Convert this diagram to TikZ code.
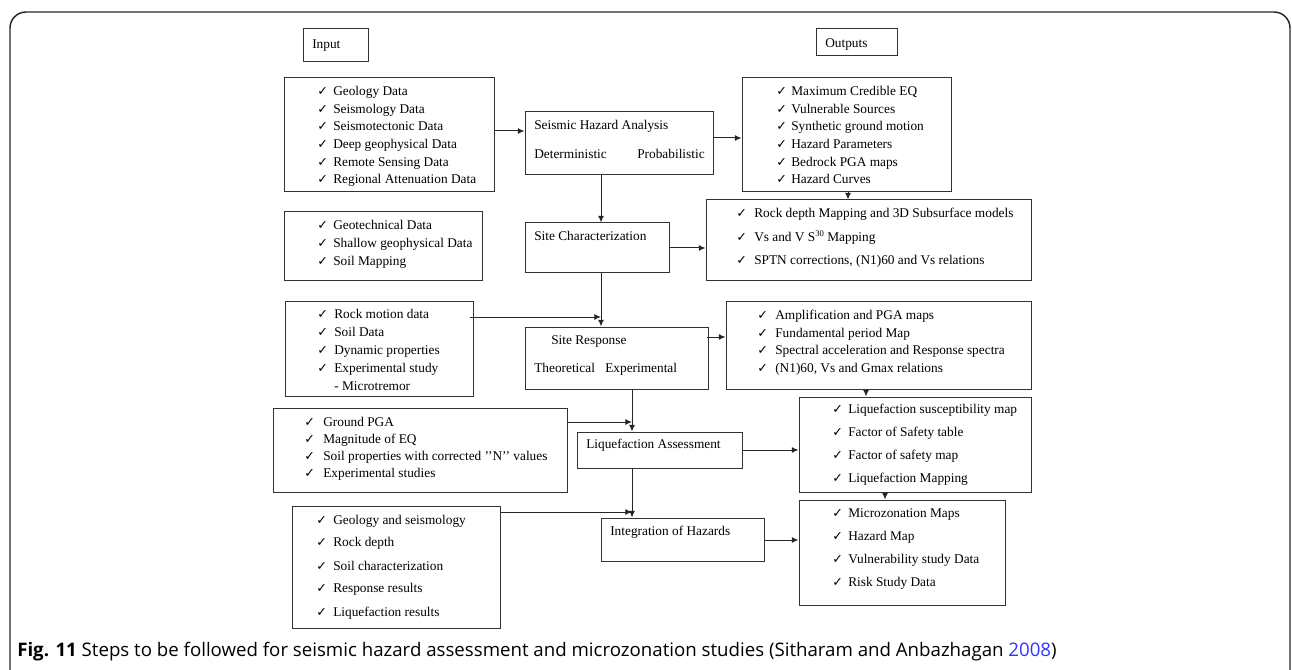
\documentclass[tikz,border=0pt]{standalone}
\usepackage{fontspec}
\setmainfont{Liberation Serif}
\newfontfamily\capfont{Open Sans}
\newfontfamily\chkfont{DejaVu Sans}
\usetikzlibrary{arrows.meta,fit}
\definecolor{linkblue}{RGB}{51,51,255}
\newcommand{\ck}[1][12pt]{\makebox[#1][l]{\chkfont\fontsize{9.5}{10}\selectfont ✓}}
\begin{document}
\begin{tikzpicture}[x=0.75pt,y=-0.75pt,
  font=\fontsize{10}{12}\selectfont,
  box/.style={draw=black!80, line width=0.75pt, inner sep=0pt},
  txt/.style={anchor=west, inner sep=0pt, text height=7pt, text depth=0pt},
  arr/.style={draw=black!85, line width=0.75pt, -{Latex[length=5pt,width=4.5pt]}},
  frame/.style={draw=black!85, line width=1.1pt, rounded corners=12pt}]
\useasboundingbox (0,0) rectangle (1292,670);
\draw[frame] (10,690) -- (10,12) -- (1290,12) -- (1290,690);

% boxes
\node[box, fit={(303,29) (368,62)}] (inp) {};
\node[box, fit={(816,29) (897,56)}] (outs) {};
\node[box, fit={(284,78) (494,192)}] (geo) {};
\node[box, fit={(525,112) (713,175)}] (sha) {};
\node[box, fit={(742,78) (951,192)}] (out1) {};
\node[box, fit={(284,212) (482,281)}] (gt) {};
\node[box, fit={(525,223) (669,273)}] (sc) {};
\node[box, fit={(706,200) (1031,281)}] (rd) {};
\node[box, fit={(285,302) (473,396)}] (rm) {};
\node[box, fit={(525,327) (708,389)}] (sr) {};
\node[box, fit={(726,302) (1031,389)}] (amp) {};
\node[box, fit={(273,408) (567,492)}] (gp) {};
\node[box, fit={(577,432) (742,468)}] (la) {};
\node[box, fit={(799,397) (1031,492)}] (lo) {};
\node[box, fit={(292,506) (500,628)}] (gs) {};
\node[box, fit={(601,518) (764,561)}] (ih) {};
\node[box, fit={(799,500) (1005,605)}] (mz) {};

% texts
\node[txt] (inp-t) at (312,44) {Input};
\node[txt] (outs-t) at (825,43) {Outputs};

\node[txt] (geo-1) at (317,91) {\ck[12pt]Geology Data};
\node[txt] (geo-2) at (317,109) {\ck[12pt]Seismology Data};
\node[txt] (geo-3) at (317,126) {\ck[12pt]Seismotectonic Data};
\node[txt] (geo-4) at (317,144) {\ck[12pt]Deep geophysical Data};
\node[txt] (geo-5) at (317,162) {\ck[12pt]Remote Sensing Data};
\node[txt] (geo-6) at (317,179) {\ck[12pt]Regional Attenuation Data};

\node[txt] (sha-1) at (534,125) {Seismic Hazard Analysis};
\node[txt] (sha-2) at (534,154) {Deterministic};
\node[txt] (sha-3) at (637,154) {Probabilistic};

\node[txt] (out1-1) at (776,91) {\ck[11.25pt]Maximum Credible EQ};
\node[txt] (out1-2) at (776,109) {\ck[11.25pt]Vulnerable Sources};
\node[txt] (out1-3) at (776,126) {\ck[11.25pt]Synthetic ground motion};
\node[txt] (out1-4) at (776,144) {\ck[11.25pt]Hazard Parameters};
\node[txt] (out1-5) at (776,162) {\ck[11.25pt]Bedrock PGA maps};
\node[txt] (out1-6) at (776,179) {\ck[11.25pt]Hazard Curves};

\node[txt] (gt-1) at (317,225) {\ck[12pt]Geotechnical Data};
\node[txt] (gt-2) at (317,243) {\ck[12pt]Shallow geophysical Data};
\node[txt] (gt-3) at (317,261) {\ck[12pt]Soil Mapping};

\node[txt] (sc-t) at (534,236) {Site Characterization};

\node[txt] (rd-1) at (736,213) {\ck[13.5pt]Rock depth Mapping and 3D Subsurface models};
\node[txt] (rd-2) at (736,237) {\ck[13.5pt]Vs and V S\raisebox{4pt}{\fontsize{6.5}{7}\selectfont 30} Mapping};
\node[txt] (rd-3) at (736,260) {\ck[13.5pt]SPTN corrections, (N1)60 and Vs relations};

\node[txt] (rm-1) at (317,314) {\ck[12.75pt]Rock motion data};
\node[txt] (rm-2) at (317,332) {\ck[12.75pt]Soil Data};
\node[txt] (rm-3) at (317,350) {\ck[12.75pt]Dynamic properties};
\node[txt] (rm-4) at (317,368) {\ck[12.75pt]Experimental study};
\node[txt] (rm-5) at (334,386) {- Microtremor};

\node[txt] (sr-1) at (551,340) {Site Response};
\node[txt] (sr-2) at (534,368) {Theoretical};
\node[txt] (sr-3) at (605,368) {Experimental};

\node[txt] (amp-1) at (757,315) {\ck[13.5pt]Amplification and PGA maps};
\node[txt] (amp-2) at (757,333) {\ck[13.5pt]Fundamental period Map};
\node[txt] (amp-3) at (757,350) {\ck[13.5pt]Spectral acceleration and Response spectra};
\node[txt] (amp-4) at (757,368) {\ck[13.5pt](N1)60, Vs and Gmax relations};

\node[txt] (gp-1) at (304,422) {\ck[14.25pt]Ground PGA};
\node[txt] (gp-2) at (304,439) {\ck[14.25pt]Magnitude of EQ};
\node[txt] (gp-3) at (304,456) {\ck[14.25pt]Soil properties with corrected ’’N’’ values};
\node[txt] (gp-4) at (304,473) {\ck[14.25pt]Experimental studies};

\node[txt] (la-t) at (586,444) {Liquefaction Assessment};

\node[txt] (lo-1) at (832,409) {\ck[12pt]Liquefaction susceptibility map};
\node[txt] (lo-2) at (832,432) {\ck[12pt]Factor of Safety table};
\node[txt] (lo-3) at (832,455) {\ck[12pt]Factor of safety map};
\node[txt] (lo-4) at (832,478) {\ck[12pt]Liquefaction Mapping};

\node[txt] (gs-1) at (316,520) {\ck[12.75pt]Geology and seismology};
\node[txt] (gs-2) at (316,542) {\ck[12.75pt]Rock depth};
\node[txt] (gs-3) at (316,566) {\ck[12.75pt]Soil characterization};
\node[txt] (gs-4) at (316,588) {\ck[12.75pt]Response results};
\node[txt] (gs-5) at (316,612) {\ck[12.75pt]Liquefaction results};

\node[txt] (ih-t) at (610,531) {Integration of Hazards};

\node[txt] (mz-1) at (832,513) {\ck[12pt]Microzonation Maps};
\node[txt] (mz-2) at (832,536) {\ck[12pt]Hazard Map};
\node[txt] (mz-3) at (832,559) {\ck[12pt]Vulnerability study Data};
\node[txt] (mz-4) at (832,582) {\ck[12pt]Risk Study Data};

% caption
\node[anchor=west, inner sep=0pt] (cap) at (17,652) {\capfont\fontsize{14}{16}\selectfont \textbf{Fig. 11} Steps to be followed for seismic hazard assessment and microzonation studies (Sitharam and Anbazhagan \textcolor{linkblue}{2008})};

% helper coordinates
\coordinate (a1) at (0,131);
\coordinate (a2) at (0,138);
\coordinate (a3) at (601,0);
\coordinate (a4) at (848,0);
\coordinate (a5) at (0,248);
\coordinate (a7) at (0,317);
\coordinate (a8) at (0,337);
\coordinate (a9) at (866,0);
\coordinate (a10) at (632,0);
\coordinate (a11) at (0,422);
\coordinate (a12) at (0,450);
\coordinate (a14) at (0,512);
\coordinate (a15) at (885,0);
\coordinate (a16) at (0,540);

% connectors
\draw[arr] (geo.east |- a1) -- (sha.west |- a1);
\draw[arr] (sha.east |- a2) -- (out1.west |- a2);
\draw[arr] (sha.south -| a3) -- (sc.north -| a3);
\draw[arr] (out1.south -| a4) -- (rd.north -| a4);
\draw[arr] (sc.east |- a5) -- (rd.west |- a5);
\draw[arr] (sc.south -| a3) -- (sr.north -| a3);
\draw[arr] ([xshift=-3pt]rm.east |- a7) -- (a3 |- a7);
\draw[arr] ([xshift=-1.5pt]sr.east |- a8) -- (amp.west |- a8);
\draw[arr] (amp.south -| a9) -- (lo.north -| a9);
\draw[arr] (sr.south -| a10) -- (la.north -| a10);
\draw[arr] (gp.east |- a11) -- (a10 |- a11);
\draw[arr] (la.east |- a12) -- (lo.west |- a12);
\draw[arr] (la.south -| a10) -- (ih.north -| a10);
\draw[arr] (gs.east |- a14) -- (a10 |- a14);
\draw[arr] (lo.south -| a15) -- (mz.north -| a15);
\draw[arr] (ih.east |- a16) -- (mz.west |- a16);
\end{tikzpicture}
\end{document}
